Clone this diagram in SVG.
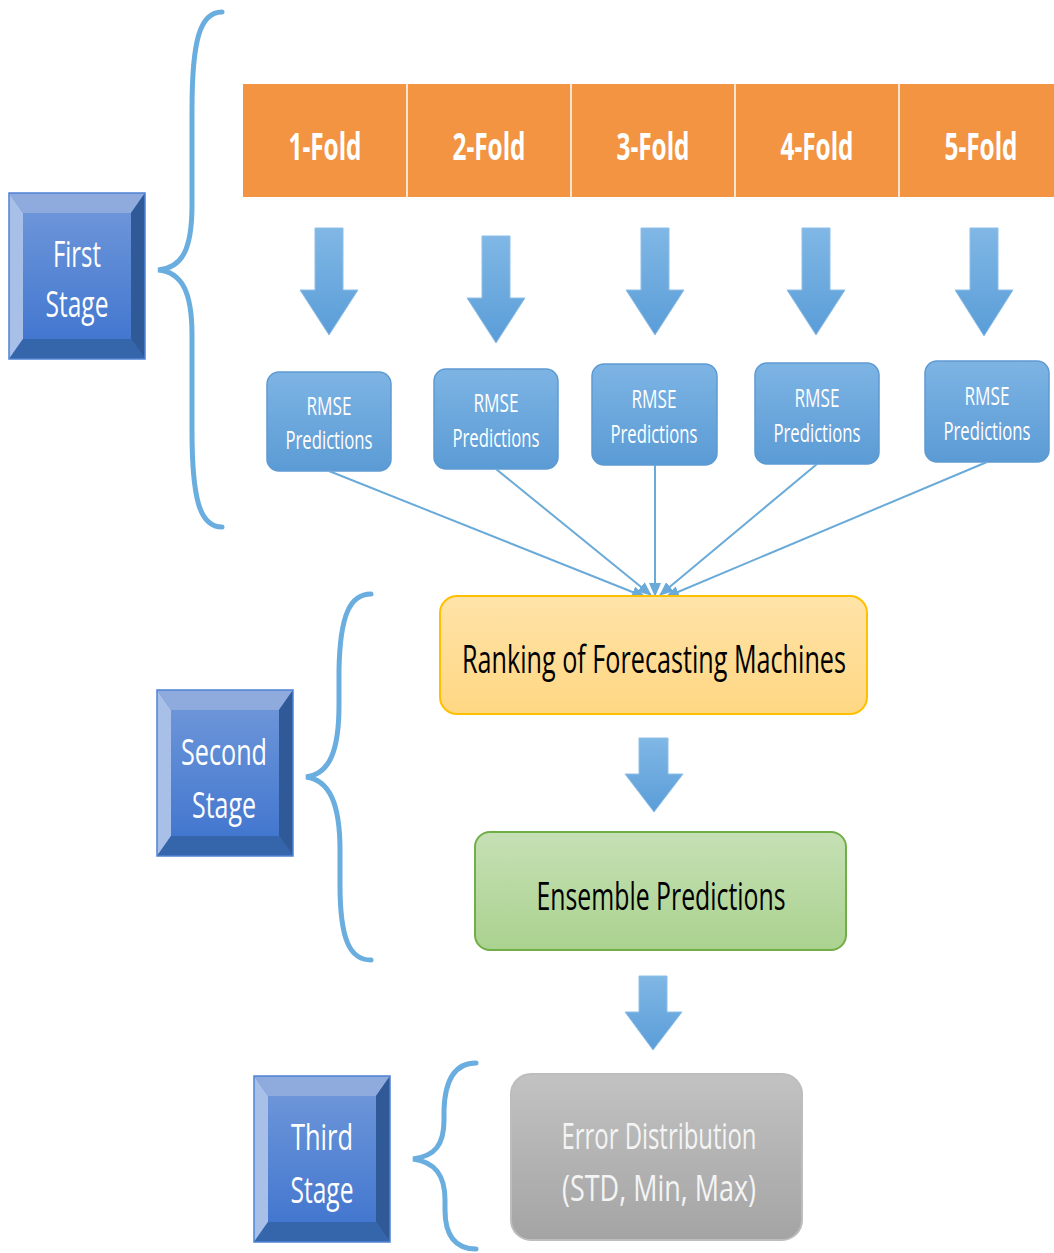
<svg xmlns="http://www.w3.org/2000/svg" xmlns:xlink="http://www.w3.org/1999/xlink" width="1054" height="1253" viewBox="0 0 1054 1253">
<defs>
<style>
.fold{font-family:"Open Sans","Liberation Sans",sans-serif;font-weight:bold;font-size:38px;fill:#fff;text-anchor:middle}
.rmse{font-family:"Open Sans","Liberation Sans",sans-serif;font-size:25px;fill:#fff;text-anchor:middle}
.stage{font-family:"Open Sans","Liberation Sans",sans-serif;font-size:37px;fill:#fff;text-anchor:middle}
.big{font-family:"Open Sans","Liberation Sans",sans-serif;font-size:38px;fill:#000;text-anchor:middle}
.gray{font-family:"Open Sans","Liberation Sans",sans-serif;font-size:36px;fill:#F4F4F4;text-anchor:middle}
.brace{fill:none;stroke:#6AADDF;stroke-width:5;stroke-linecap:round}
.conn{fill:none;stroke:#6AAAD9;stroke-width:2}
.darrow{fill:url(#gArrow);stroke:#8DBFE8;stroke-width:1}
.rbox{fill:url(#gRmse);stroke:#5D9AD2;stroke-width:1.5}
</style>
<linearGradient id="gArrow" x1="0" y1="0" x2="0" y2="1"><stop offset="0" stop-color="#80B7E5"/><stop offset="1" stop-color="#5A9DD8"/></linearGradient>
<linearGradient id="gRmse" x1="0" y1="0" x2="0" y2="1"><stop offset="0" stop-color="#7DB4E4"/><stop offset="1" stop-color="#5B9BD5"/></linearGradient>
<linearGradient id="gFace" x1="0" y1="0" x2="0" y2="1"><stop offset="0" stop-color="#6C95D9"/><stop offset="1" stop-color="#4377CF"/></linearGradient>
<linearGradient id="gYel" x1="0" y1="0" x2="0" y2="1"><stop offset="0" stop-color="#FFE3A8"/><stop offset="1" stop-color="#FFD783"/></linearGradient>
<linearGradient id="gGrn" x1="0" y1="0" x2="0" y2="1"><stop offset="0" stop-color="#C6E0B5"/><stop offset="1" stop-color="#AAD28F"/></linearGradient>
<linearGradient id="gGry" x1="0" y1="0" x2="0" y2="1"><stop offset="0" stop-color="#C2C2C2"/><stop offset="1" stop-color="#A4A4A4"/></linearGradient>
<marker id="ah" markerUnits="userSpaceOnUse" markerWidth="14" markerHeight="12" refX="13" refY="6" orient="auto"><path d="M0,0 L14,6 L0,12 Z" fill="#6AAAD9"/></marker>
<g id="bevel">
<rect x="0" y="0" width="136" height="166" fill="#4377CF"/>
<polygon points="0,0 136,0 122,20 14,20" fill="#8FABDD"/>
<polygon points="0,0 14,20 14,146 0,166" fill="#A8BFE7"/>
<polygon points="136,0 136,166 122,146 122,20" fill="#2F5A97"/>
<polygon points="0,166 14,146 122,146 136,166" fill="#3565AA"/>
<rect x="14" y="20" width="108" height="126" fill="url(#gFace)"/>
<rect x="0" y="0" width="136" height="166" fill="none" stroke="#4F83D3" stroke-width="1.5"/>
</g>
</defs>
<rect width="1054" height="1253" fill="#fff"/>

<g id="braces">
<path class="brace" d="M222,12 C200,12 192,40 192,110 L192,205 C192,250 182,268 158,270 C182,272 192,292 192,335 L192,430 C192,500 200,527 222,527"/>
<path class="brace" d="M371,594 C350,594 340,615 339,670 L339,705 C339,750 330,774 306,777 C330,780 340,805 340,850 L340,885 C340,940 350,960 371,960"/>
<path class="brace" d="M476,1063 C455,1063 445,1080 444,1110 L444,1120 C444,1145 435,1156 413,1159 C435,1162 445,1175 445,1200 L445,1210 C445,1235 455,1249 476,1249"/>
</g>

<g id="stage1" transform="translate(9,193)"><use xlink:href="#bevel"/><text class="stage" x="68" y="74" textLength="48" lengthAdjust="spacingAndGlyphs">First</text><text class="stage" x="68" y="124" textLength="63" lengthAdjust="spacingAndGlyphs">Stage</text></g>
<g id="stage2" transform="translate(157,690)"><use xlink:href="#bevel"/><text class="stage" x="67" y="75" textLength="86" lengthAdjust="spacingAndGlyphs">Second</text><text class="stage" x="67" y="128" textLength="64" lengthAdjust="spacingAndGlyphs">Stage</text></g>
<g id="stage3" transform="translate(254,1076)"><use xlink:href="#bevel"/><text class="stage" x="68" y="74" textLength="62" lengthAdjust="spacingAndGlyphs">Third</text><text class="stage" x="68" y="127" textLength="63" lengthAdjust="spacingAndGlyphs">Stage</text></g>

<g id="folds">
<rect x="243" y="84" width="811" height="113" fill="#F29441"/>
<g stroke="#FBE3CF" stroke-width="2"><line x1="407" y1="84" x2="407" y2="197"/><line x1="571" y1="84" x2="571" y2="197"/><line x1="735" y1="84" x2="735" y2="197"/><line x1="899" y1="84" x2="899" y2="197"/></g>
<g id="fold1"><text class="fold" x="325" y="160" textLength="73" lengthAdjust="spacingAndGlyphs">1-Fold</text></g>
<g id="fold2"><text class="fold" x="489" y="160" textLength="73" lengthAdjust="spacingAndGlyphs">2-Fold</text></g>
<g id="fold3"><text class="fold" x="653" y="160" textLength="73" lengthAdjust="spacingAndGlyphs">3-Fold</text></g>
<g id="fold4"><text class="fold" x="817" y="160" textLength="73" lengthAdjust="spacingAndGlyphs">4-Fold</text></g>
<g id="fold5"><text class="fold" x="981" y="160" textLength="73" lengthAdjust="spacingAndGlyphs">5-Fold</text></g>
</g>

<g id="down-arrows">
<path class="darrow" d="M315,228 H343 V290 H358 L329,335 L300,290 H315 Z"/>
<path class="darrow" d="M482,236 H510 V298 H525 L496,343 L467,298 H482 Z"/>
<path class="darrow" d="M641,228 H669 V290 H684 L655,335 L626,290 H641 Z"/>
<path class="darrow" d="M802,228 H830 V290 H845 L816,335 L787,290 H802 Z"/>
<path class="darrow" d="M970,228 H998 V290 H1013 L984,336 L955,290 H970 Z"/>
<path class="darrow" d="M639,738 H668 V774 H683 L654,812 L625,774 H639 Z"/>
<path class="darrow" d="M639,976 H667 V1012 H682 L653,1050 L625,1012 H639 Z"/>
</g>

<g id="rmse1"><rect class="rbox" x="267" y="372" width="124" height="99" rx="12"/><text class="rmse" x="329" y="415" textLength="45" lengthAdjust="spacingAndGlyphs">RMSE</text><text class="rmse" x="329" y="449" textLength="87" lengthAdjust="spacingAndGlyphs">Predictions</text></g>
<g id="rmse2"><rect class="rbox" x="434" y="369" width="124" height="100" rx="12"/><text class="rmse" x="496" y="412" textLength="45" lengthAdjust="spacingAndGlyphs">RMSE</text><text class="rmse" x="496" y="447" textLength="87" lengthAdjust="spacingAndGlyphs">Predictions</text></g>
<g id="rmse3"><rect class="rbox" x="592" y="364" width="125" height="101" rx="12"/><text class="rmse" x="654" y="408" textLength="45" lengthAdjust="spacingAndGlyphs">RMSE</text><text class="rmse" x="654" y="443" textLength="87" lengthAdjust="spacingAndGlyphs">Predictions</text></g>
<g id="rmse4"><rect class="rbox" x="755" y="363" width="124" height="101" rx="12"/><text class="rmse" x="817" y="407" textLength="45" lengthAdjust="spacingAndGlyphs">RMSE</text><text class="rmse" x="817" y="442" textLength="87" lengthAdjust="spacingAndGlyphs">Predictions</text></g>
<g id="rmse5"><rect class="rbox" x="925" y="361" width="124" height="101" rx="12"/><text class="rmse" x="987" y="405" textLength="45" lengthAdjust="spacingAndGlyphs">RMSE</text><text class="rmse" x="987" y="440" textLength="87" lengthAdjust="spacingAndGlyphs">Predictions</text></g>

<g id="connectors">
<line class="conn" x1="329" y1="471" x2="645" y2="597" marker-end="url(#ah)"/>
<line class="conn" x1="496" y1="469" x2="651" y2="595" marker-end="url(#ah)"/>
<line class="conn" x1="655" y1="465" x2="655" y2="596" marker-end="url(#ah)"/>
<line class="conn" x1="817" y1="464" x2="660" y2="595" marker-end="url(#ah)"/>
<line class="conn" x1="987" y1="462" x2="666" y2="597" marker-end="url(#ah)"/>
</g>

<g id="ranking"><rect x="440" y="596" width="427" height="118" rx="17" fill="url(#gYel)" stroke="#FFC000" stroke-width="2"/><text class="big" x="654" y="673" textLength="384" lengthAdjust="spacingAndGlyphs">Ranking of Forecasting Machines</text></g>
<g id="ensemble"><rect x="475" y="832" width="371" height="118" rx="15" fill="url(#gGrn)" stroke="#71AE48" stroke-width="2"/><text class="big" x="661" y="910" textLength="249" lengthAdjust="spacingAndGlyphs">Ensemble Predictions</text></g>
<g id="error"><rect x="511" y="1074" width="291" height="166" rx="20" fill="url(#gGry)" stroke="#BDBDBD" stroke-width="2"/><text class="gray" x="659" y="1149" textLength="195" lengthAdjust="spacingAndGlyphs">Error Distribution</text><text class="gray" x="659" y="1201" textLength="194" lengthAdjust="spacingAndGlyphs">(STD, Min, Max)</text></g>
</svg>
